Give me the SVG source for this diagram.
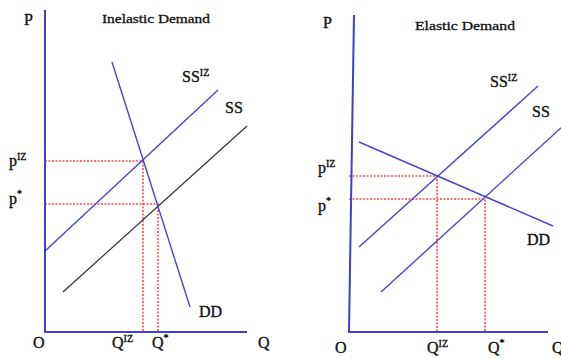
<svg xmlns="http://www.w3.org/2000/svg" width="561" height="358" viewBox="0 0 561 358">
<style>
.ax{stroke:#3f3fd0;stroke-width:2;fill:none}
.bl{stroke:#4646c8;stroke-width:1.4;fill:none}
.bk{stroke:#303030;stroke-width:1.2;fill:none}
.dt{stroke:#ff4a4a;stroke-width:1.6;stroke-dasharray:2 1.5;fill:none}
text{font-family:"Liberation Serif","Times New Roman",serif;fill:#111;stroke:#111;stroke-width:0.35;font-size:16px}
.t{font-size:13px;stroke-width:0.3}
.sp{font-size:10px}
</style>
<rect width="561" height="358" fill="#fff"/>
<g id="inelastic">
  <g id="left-guides">
    <polyline class="dt" points="45,161 143,161 143,332"/>
    <polyline class="dt" points="45,204 158,204 158,332"/>
  </g>
  <g id="left-curves">
    <line class="bk" x1="63" y1="292" x2="247" y2="126"/>
    <line class="bl" x1="45" y1="251" x2="218" y2="90"/>
    <line class="bl" x1="112" y1="62" x2="190" y2="307"/>
  </g>
  <g id="left-axes">
    <line class="ax" x1="45" y1="10" x2="45" y2="332"/>
    <line class="ax" x1="44" y1="332" x2="247" y2="332"/>
  </g>
  <g id="left-labels">
    <text x="24" y="25">P</text>
    <text class="t" x="102" y="23" textLength="108" lengthAdjust="spacingAndGlyphs">Inelastic Demand</text>
    <text x="182" y="82">SS<tspan class="sp" dy="-6">IZ</tspan></text>
    <text x="225" y="113">SS</text>
    <text x="9" y="166">p<tspan class="sp" dy="-6">IZ</tspan></text>
    <text x="9" y="204">p<tspan class="sp" dy="-7">*</tspan></text>
    <text x="199" y="317">DD</text>
    <text x="33" y="348">O</text>
    <text x="112" y="348">Q<tspan class="sp" dy="-6">IZ</tspan></text>
    <text x="152" y="348">Q<tspan class="sp" dy="-7">*</tspan></text>
    <text x="258" y="348">Q</text>
  </g>
</g>
<g id="elastic">
  <g id="right-guides">
    <polyline class="dt" points="349,176 437,176 437,332"/>
    <polyline class="dt" points="349,199 485,199 485,332"/>
  </g>
  <g id="right-curves">
    <line class="bl" x1="359" y1="142" x2="553" y2="226"/>
    <line class="bl" x1="359" y1="247" x2="538" y2="86"/>
    <line class="bl" x1="381" y1="292" x2="563" y2="126"/>
  </g>
  <g id="right-axes">
    <line class="ax" x1="354" y1="15" x2="349" y2="332"/>
    <line class="ax" x1="348" y1="332" x2="548" y2="332"/>
  </g>
  <g id="right-labels">
    <text x="323" y="28">P</text>
    <text class="t" x="415" y="30" textLength="100" lengthAdjust="spacingAndGlyphs">Elastic Demand</text>
    <text x="490" y="87">SS<tspan class="sp" dy="-6">IZ</tspan></text>
    <text x="532" y="117">SS</text>
    <text x="318" y="173">p<tspan class="sp" dy="-6">IZ</tspan></text>
    <text x="318" y="211">p<tspan class="sp" dy="-7">*</tspan></text>
    <text x="527" y="245">DD</text>
    <text x="335" y="353">O</text>
    <text x="427" y="353">Q<tspan class="sp" dy="-6">IZ</tspan></text>
    <text x="488" y="353">Q<tspan class="sp" dy="-7">*</tspan></text>
    <text x="552" y="353">Q</text>
  </g>
</g>
</svg>
